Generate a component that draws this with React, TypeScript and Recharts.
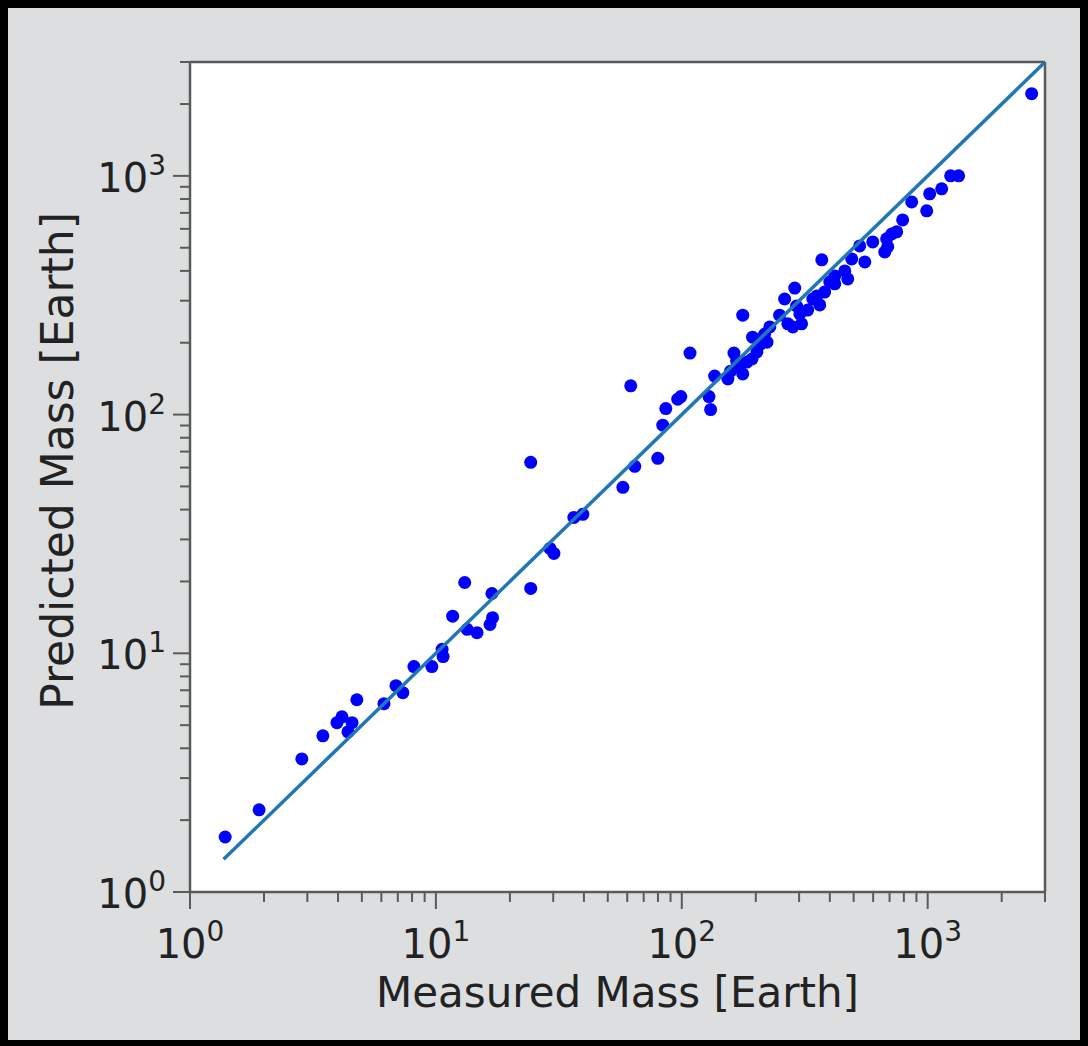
import { CartesianGrid, Label, ReferenceLine, Scatter, ScatterChart, XAxis, YAxis } from "recharts";

// measured vs predicted planet masses, in Earth masses
const measuredMass = [
  1.39, 1.91, 2.85, 3.47, 3.96, 4.15, 4.56, 4.39, 4.77, 6.15, 6.88, 7.34, 8.14, 9.63, 10.6, 10.7,
  11.7, 13.1, 13.4, 14.7, 16.6, 17.0, 16.9, 24.3, 24.3, 29.1, 30.2, 36.4, 39.6, 57.6, 64.4, 62.0,
  79.9, 83.7, 86.1, 96.3, 99.1, 108, 129, 131, 136, 154, 163, 177, 177, 184, 193, 194, 202, 208,
  222, 172, 228, 250, 262, 288, 270, 283, 307, 325, 341, 354, 364, 371, 381, 400, 419, 419, 460,
  473, 491, 529, 555, 598, 669, 681, 688, 714, 748, 791, 861, 991, 1019, 1140, 1240, 1336, 2648,
  158, 167, 217, 293, 302,
];
const predictedMass = [
  1.7, 2.21, 3.61, 4.51, 5.12, 5.42, 5.12, 4.69, 6.39, 6.15, 7.32, 6.84, 8.8, 8.8, 10.4, 9.69,
  14.3, 19.8, 12.6, 12.2, 13.2, 14.1, 17.8, 18.7, 63.1, 27.5, 26.2, 37.1, 38.2, 49.6, 60.7, 132,
  65.6, 90.3, 106, 116, 119, 181, 119, 105, 145, 141, 181, 261, 148, 166, 171, 211, 183, 197,
  201, 160, 233, 261, 305, 339, 240, 233, 240, 274, 305, 314, 288, 445, 326, 359, 381, 353, 400,
  370, 449, 509, 436, 529, 480, 545, 505, 571, 583, 654, 778, 714, 841, 883, 1001, 1001, 2211,
  152, 168, 217, 285, 264,
];

const majorTicks = [1, 10, 100, 1000];
const minorTicks = [
  2, 3, 4, 5, 6, 7, 8, 9, 20, 30, 40, 50, 60, 70, 80, 90, 200, 300, 400, 500, 600, 700, 800, 900,
  2000, 3000,
];
const allTicks = [...majorTicks, ...minorTicks];
const axisRange = [1, 3000];
const oneToOne = [1.37, 3000];

const points = measuredMass.map((m, i) => ({ measured: m, predicted: predictedMass[i] }));
const lineData = oneToOne.map((v) => ({ measured: v, predicted: v }));

const FONT = "DejaVu Sans, sans-serif";
const INK = "#222";
const SPINE = "#5a5a5a";

function Power({ value }: { value: number }) {
  return (
    <>
      10
      <tspan dy={-17} fontSize={28}>
        {Math.round(Math.log10(value))}
      </tspan>
    </>
  );
}

function XTick(props: any) {
  const { x, y, payload } = props;
  const major = majorTicks.includes(payload.value);
  return (
    <g>
      <line x1={x} x2={x} y1={y} y2={y + (major ? 17 : 10)} stroke={SPINE} strokeWidth={2} />
      {major && (
        <text x={x} y={y + 66} textAnchor="middle" fontSize={40} fill={INK} fontFamily={FONT}>
          <Power value={payload.value} />
        </text>
      )}
    </g>
  );
}

function YTick(props: any) {
  const { x, y, payload } = props;
  const major = majorTicks.includes(payload.value);
  return (
    <g>
      <line x1={x} x2={x - (major ? 17 : 10)} y1={y} y2={y} stroke={SPINE} strokeWidth={2} />
      {major && (
        <text x={x - 24} y={y + 16} textAnchor="end" fontSize={40} fill={INK} fontFamily={FONT}>
          <Power value={payload.value} />
        </text>
      )}
    </g>
  );
}

function YTitle(props: any) {
  const vb = props.viewBox;
  const cx = vb.x + 33;
  const cy = vb.y + vb.height / 2 - 16;
  return (
    <text
      x={cx}
      y={cy}
      transform={`rotate(-90, ${cx}, ${cy})`}
      textAnchor="middle"
      fontSize={44}
      fill={INK}
      fontFamily={FONT}
    >
      Predicted Mass [Earth]
    </text>
  );
}

export default function App() {
  return (
    <div style={{ position: "absolute", left: 0, top: 0, width: 1088, height: 1046, background: "#000" }}>
      <div
        style={{ position: "absolute", left: 8, top: 8, width: 1072, height: 1032, background: "#dddee0" }}
      />
      <div style={{ position: "absolute", left: 0, top: 0 }}>
        <ScatterChart width={1088} height={1046} margin={{ top: 62, right: 43, bottom: 24, left: 40 }}>
          <CartesianGrid fill="#fff" horizontal={false} vertical={false} />
          <XAxis
            type="number"
            dataKey="measured"
            scale="log"
            domain={axisRange}
            ticks={allTicks}
            interval={0}
            allowDataOverflow
            height={130}
            tickSize={0}
            tickMargin={0}
            tickLine={false}
            tick={<XTick />}
            axisLine={{ stroke: SPINE, strokeWidth: 2.5 }}
          >
            <Label
              value="Measured Mass [Earth]"
              position="insideBottom"
              offset={15}
              fontSize={42}
              fill={INK}
              fontFamily={FONT}
            />
          </XAxis>
          <YAxis
            type="number"
            dataKey="predicted"
            scale="log"
            domain={axisRange}
            ticks={allTicks}
            interval={0}
            allowDataOverflow
            width={150}
            tickSize={0}
            tickMargin={0}
            tickLine={false}
            tick={<YTick />}
            axisLine={{ stroke: SPINE, strokeWidth: 2.5 }}
          >
            <Label content={<YTitle />} />
          </YAxis>
          <ReferenceLine x={axisRange[1]} stroke={SPINE} strokeWidth={2.5} />
          <ReferenceLine y={axisRange[1]} stroke={SPINE} strokeWidth={2.5} />
          <Scatter
            data={points}
            isAnimationActive={false}
            shape={(p: any) => <circle cx={p.cx} cy={p.cy} r={6.5} fill="#0000ff" />}
          />
          <Scatter
            data={lineData}
            isAnimationActive={false}
            line={{ stroke: "#1f77b4", strokeWidth: 3.5 }}
            shape={() => <g />}
          />
        </ScatterChart>
      </div>
    </div>
  );
}
